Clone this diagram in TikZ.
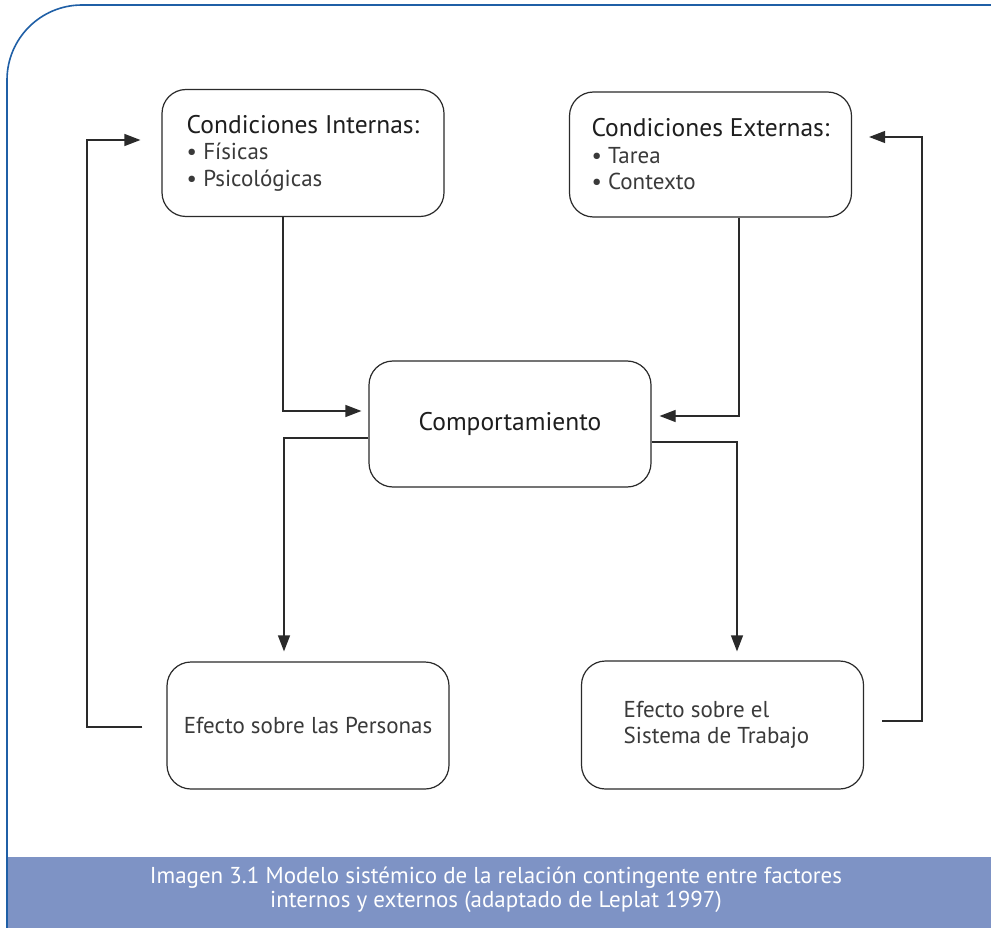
\documentclass[tikz,border=0pt]{standalone}
\usepackage{fontspec}
\setmainfont{PT Sans}
\usetikzlibrary{arrows.meta,calc}
\definecolor{framec}{HTML}{1F5FA6}
\definecolor{bandc}{HTML}{7E93C5}
\definecolor{linec}{HTML}{2A2A2A}
\definecolor{headc}{HTML}{1E1E1E}
\definecolor{bodyc}{HTML}{3A3A3A}
\begin{document}
\begin{tikzpicture}[x=1pt,y=-1pt,
  box/.style={draw=linec, line width=1.2pt, rounded corners=24pt, inner sep=0pt,
    minimum width=282pt, minimum height=127pt, align=left, text=bodyc,
    font=\fontsize{23}{26.5}\selectfont},
  arr/.style={draw=linec, line width=1.2pt, -{Triangle[length=16pt,width=12pt]}},
  conn/.style={draw=linec, line width=1.2pt},
  caption/.style={text=white, align=center, font=\fontsize{23}{24}\selectfont}]
\useasboundingbox (0,0) rectangle (991,928);
\fill[white] (0,0) rectangle (991,928);
\fill[bandc] (7,857) rectangle (995,930);
\draw[framec, line width=1.6pt, rounded corners=75pt] (7,932) -- (7,5) -- (1000,5);

\node[box] (CI) at (303,153) {{\color{headc}\fontsize{25.5}{26.5}\selectfont Condiciones Internas:}\\ • Físicas\\ • Psicológicas};
\node[box, minimum height=125pt] (CE) at (710.5,154.5) {{\color{headc}\fontsize{25.5}{26.5}\selectfont Condiciones Externas:}\\ • Tarea\\ • Contexto};
\node[box, minimum height=126pt, text=headc, font=\fontsize{25.5}{26}\selectfont] (CO) at (510,424) {Comportamiento};
\node[box] (EP) at (308,725.5) {Efecto sobre las Personas};
\node[box, minimum height=128pt] (ES) at (722.5,725) {\hspace*{-12pt}Efecto sobre el\\\hspace*{-12pt}Sistema de Trabajo};

\coordinate (c1) at (283,411);
\coordinate (c2) at (739,416);
\coordinate (c3) at (284,438);
\coordinate (c4) at (737,442);
\coordinate (c5) at (87,727);
\coordinate (c5t) at (87,140);
\coordinate (c6) at (922,721);
\coordinate (c6t) at (922,137);

\draw[arr] (CI.south -| c1) |- ([xshift=-7pt]CO.west |- c1);
\draw[arr] (CE.south -| c2) |- ([xshift=8pt]CO.east |- c2);
\draw[arr] (CO.west |- c3) -| ([yshift=10pt]EP.north -| c3);
\draw[arr] (CO.east |- c4) -| ([yshift=9pt]ES.north -| c4);
\draw[arr] ([xshift=-24pt]EP.west |- c5) -- (c5) |- ([xshift=-21pt]CI.west |- c5t);
\draw[arr] ([xshift=18pt]ES.east |- c6) -- (c6) |- ([xshift=17pt]CE.east |- c6t);

\node[caption] (cap) at (496,890) {Imagen 3.1 Modelo sistémico de la relación contingente entre factores\\internos y externos (adaptado de Leplat 1997)};
\end{tikzpicture}
\end{document}
